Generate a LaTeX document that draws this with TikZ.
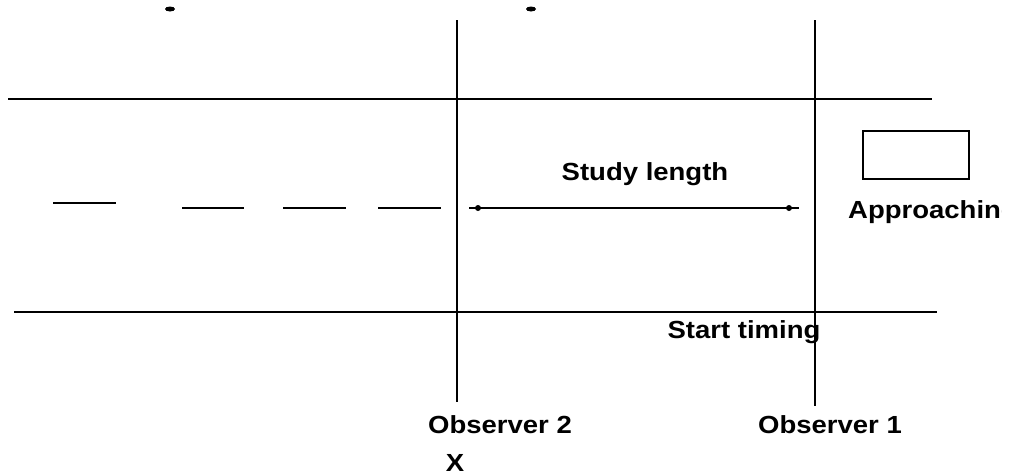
\documentclass[tikz,border=0pt]{standalone}
\usepackage{fontspec}
\setmainfont{Liberation Sans}
\newcommand{\lbl}[1]{\scalebox{1}[0.9]{\fontsize{27.5}{30}\selectfont\bfseries #1}}
\begin{document}
\begin{tikzpicture}[x=1pt,y=-1pt,
  road/.style={line width=1.6pt},
  dashseg/.style={line width=2pt},
  txt/.style={inner sep=0pt,font=\bfseries}]
\useasboundingbox (0,0) rectangle (1010,475);
\clip (0,0) rectangle (1001,475);
% road edges
\coordinate (t1) at (8,99); \coordinate (t2) at (932,99);
\coordinate (b1) at (14,312); \coordinate (b2) at (937,312);
\draw[road] (t1) -- (t2);
\draw[road] (b1) -- (b2);
% observer lines
\coordinate (o2t) at (457,20); \coordinate (o2b) at (457,402);
\coordinate (o1t) at (815,20); \coordinate (o1b) at (815,406);
\draw[road] (o2t) -- (o2b);
\draw[road] (o1t) -- (o1b);
% centre dashes
\coordinate (d1a) at (53,203); \coordinate (d1b) at (116,203);
\coordinate (d2a) at (182,208); \coordinate (d2b) at (244,208);
\coordinate (d3a) at (283,208); \coordinate (d3b) at (346,208);
\coordinate (d4a) at (378,208); \coordinate (d4b) at (441,208);
\draw[dashseg] (d1a) -- (d1b);
\draw[dashseg] (d2a) -- (d2b);
\draw[dashseg] (d3a) -- (d3b);
\draw[dashseg] (d4a) -- (d4b);
% study length arrow
\coordinate (sa) at (469,208); \coordinate (sb) at (799,208);
\draw[line width=1.8pt] (sa) -- (sb);
\fill (478,208) circle (3);
\fill (789,208) circle (3);
% partial marks at top
\fill (170,9) ellipse (5 and 2.5);
\fill (531,9) ellipse (5 and 2.5);
% vehicle
\node[draw,line width=1.6pt,minimum width=106pt,minimum height=48pt,inner sep=0pt] (car) at (916,155) {};
% labels
\node[txt] (study) at (645,174) {\lbl{Study length}};
\node[txt,anchor=west] (appr) at (848,212) {\lbl{Approaching}};
\node[txt] (start) at (744,332) {\lbl{Start timing}};
\node[txt] (obs2) at (500,425) {\lbl{Observer 2}};
\node[txt] (obs1) at (830,425) {\lbl{Observer 1}};
\node[txt] (x) at (455,463) {\lbl{X}};
\end{tikzpicture}
\end{document}
